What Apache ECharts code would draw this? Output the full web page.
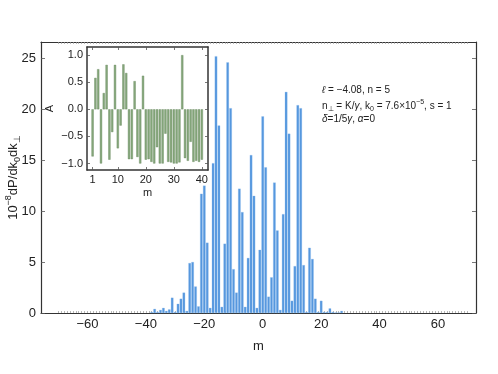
<!DOCTYPE html>
<html><head><meta charset="utf-8">
<script src="https://cdn.jsdelivr.net/npm/echarts@6/dist/echarts.min.js"></script>
<style>html,body{margin:0;padding:0;background:#fff}#c{width:498px;height:374px}</style>
</head><body><div id="c"></div>
<script>
// main chart: m vs 10^-8 dP/dk0 dk_perp
const mainM = [-38,-37,-36,-35,-34,-33,-32,-31,-30,-29,-28,-27,-26,-25,-24,-23,-22,-21,-20,-19,-18,-17,-16,-15,-14,-13,-12,-11,-10,-9,-8,-7,-6,-5,-4,-3,-2,-1,0,1,2,3,4,5,6,7,8,9,10,11,12,13,14,15,16,17,18,19,20,21,22,23,24,25,26,27];
const mainP = [0.1,0.4,0.1,0.3,0.5,0.2,0.35,1.5,0.1,0.9,1.4,2.0,0.2,4.9,5.0,2.6,0.65,11.7,12.5,6.9,0.5,14.7,25.2,18.4,0.6,6.8,24.6,20.1,4.3,2.0,12.2,9.9,0.6,5.4,15.5,11.5,0.5,6.2,19.3,14.3,1.6,3.5,12.8,8.1,0.3,9.7,21.7,17.6,1.2,4.6,20.4,20.1,4.7,0.1,6.4,5.3,1.4,0.1,1.2,0.1,0.1,0.45,0.1,0.05,0.05,0.2];
// inset: m vs A
const insetM = [1,2,3,4,5,6,7,8,9,10,11,12,13,14,15,16,17,18,19,20,21,22,23,24,25,26,27,28,29,30,31,32,33,34,35,36,37,38,39,40];
const insetA = [-0.87,0.58,0.74,-1.0,0.30,0.82,-0.93,-0.42,0.82,-0.72,-0.30,0.83,0.67,-0.92,-0.92,0.52,-0.88,-1.0,0.62,-0.93,-0.92,-0.97,-1.0,-0.7,-1.0,-1.0,-0.45,-0.97,-0.98,-1.0,-1.0,-0.98,1.0,-0.9,-0.95,-0.6,-0.97,-0.95,-0.97,-0.93];
// tick labels
const mainXTicks = [-60,-40,-20,0,20,40,60];
const mainYTicks = [0,5,10,15,20,25];
const insetXTicks = [1,10,20,30,40];
const insetYTicks = [-1,-0.5,0,0.5,1];

const fineTicks = [];
for (let i = -70; i <= 70; i++) fineTicks.push(i);
const minus = s => String(s).replace('-', '\u2212');
const FONT = 'Liberation Sans';
const frame = (w) => ({show: true, onZero: false, lineStyle: {color: '#333', width: w}});

const chart = echarts.init(document.getElementById('c'), null, {renderer: 'canvas'});
const option = {
  animation: false,
  backgroundColor: '#fff',
  textStyle: {fontFamily: FONT},
  grid: [
    {left: 41, top: 42, width: 435, height: 271, show: false, containLabel: false, outerBoundsMode: 'none'},
    {left: 87, top: 47, width: 121, height: 123, show: true, borderWidth: 0, backgroundColor: '#fff', z: 5, containLabel: false, outerBoundsMode: 'none'}
  ],
  xAxis: [
    {gridIndex: 0, type: 'value', min: -75.9, max: 73, position: 'bottom',
     axisLine: frame(1.2), splitLine: {show: false},
     axisTick: {show: true, inside: true, length: 2, customValues: fineTicks, lineStyle: {color: '#999', width: 0.7}},
     axisLabel: {customValues: mainXTicks, formatter: v => minus(v), fontSize: 13, color: '#222', margin: 5, fontFamily: FONT},
     name: 'm', nameLocation: 'middle', nameGap: 27, nameMoveOverlap: false, nameTextStyle: {fontSize: 13, color: '#222', fontFamily: FONT}},
    {gridIndex: 0, type: 'value', min: -75.9, max: 73, position: 'top',
     axisLine: frame(1.2), splitLine: {show: false},
     axisTick: {show: true, inside: true, length: 2, customValues: fineTicks, lineStyle: {color: '#999', width: 0.7}},
     axisLabel: {show: false}},
    {gridIndex: 1, type: 'value', min: -1, max: 42.2, position: 'bottom',
     axisLine: frame(1.5), splitLine: {show: false},
     axisTick: {show: true, inside: true, length: 3, customValues: insetXTicks, lineStyle: {color: '#555', width: 0.8}},
     axisLabel: {customValues: insetXTicks, fontSize: 11, color: '#222', margin: 4, fontFamily: FONT},
     name: 'm', nameLocation: 'middle', nameGap: 17, nameTextStyle: {fontSize: 11, color: '#222', fontFamily: FONT}, z: 6},
    {gridIndex: 1, type: 'value', min: -1, max: 42.2, position: 'top',
     axisLine: frame(1.5), splitLine: {show: false},
     axisTick: {show: true, inside: true, length: 3, customValues: insetXTicks, lineStyle: {color: '#555', width: 0.8}},
     axisLabel: {show: false}, z: 6}
  ],
  yAxis: [
    {gridIndex: 0, type: 'value', min: 0, max: 26.6, position: 'left',
     axisLine: frame(1.2), splitLine: {show: false},
     axisTick: {show: true, inside: true, length: 4, customValues: mainYTicks, lineStyle: {color: '#555', width: 0.8}},
     axisLabel: {customValues: mainYTicks, fontSize: 13, color: '#222', margin: 5, fontFamily: FONT},
     name: '{a|10}{sup|\u22128}{a|dP/dk}{sub|0}{a|dk}{sub|\u22a5}',
     nameLocation: 'middle', nameRotate: 90, nameGap: 19, nameMoveOverlap: false,
     nameTextStyle: {color: '#222', fontFamily: FONT, rich: {
       a: {fontSize: 13, lineHeight: 18, color: '#222', fontFamily: FONT},
       sup: {fontSize: 9, lineHeight: 9, verticalAlign: 'top', color: '#222', fontFamily: FONT},
       sub: {fontSize: 9, lineHeight: 9, verticalAlign: 'bottom', color: '#222', fontFamily: FONT}}}},
    {gridIndex: 0, type: 'value', min: 0, max: 26.6, position: 'right',
     axisLine: frame(1.2), splitLine: {show: false},
     axisTick: {show: true, inside: true, length: 4, customValues: mainYTicks, lineStyle: {color: '#555', width: 0.8}},
     axisLabel: {show: false}},
    {gridIndex: 1, type: 'value', min: -1.12, max: 1.15, position: 'left',
     axisLine: frame(1.5), splitLine: {show: false},
     axisTick: {show: true, inside: true, length: 3, customValues: insetYTicks, lineStyle: {color: '#555', width: 0.8}},
     axisLabel: {customValues: insetYTicks, formatter: v => minus(v.toFixed(1)), fontSize: 11, color: '#222', margin: 4, fontFamily: FONT},
     name: 'A', nameLocation: 'middle', nameRotate: 90, nameGap: 32,
     nameTextStyle: {fontSize: 11, color: '#222', fontFamily: FONT}, z: 6},
    {gridIndex: 1, type: 'value', min: -1.12, max: 1.15, position: 'right',
     axisLine: frame(1.5), splitLine: {show: false},
     axisTick: {show: true, inside: true, length: 3, customValues: insetYTicks, lineStyle: {color: '#555', width: 0.8}},
     axisLabel: {show: false}, z: 6}
  ],
  series: [
    {type: 'bar', xAxisIndex: 0, yAxisIndex: 0, barWidth: 2.5,
     data: mainM.map((m, i) => [m, mainP[i]]),
     itemStyle: {color: '#5597de', borderColor: '#8dbbef', borderWidth: 0.3}},
    {type: 'bar', xAxisIndex: 2, yAxisIndex: 2, barWidth: 2.2, z: 7,
     data: insetM.map((m, i) => [m, insetA[i]]),
     itemStyle: {color: '#86a87c', borderColor: '#66875a', borderWidth: 0.4}}
  ],
  graphic: [
    {type: 'text', left: 322, top: 85, z: 10, style: {
      text: '{i|\u2113}{r| = \u22124.08, n = 5}', fill: '#222',
      rich: {i: {fontStyle: 'italic', fontSize: 10, fontFamily: FONT}, r: {fontSize: 10, fontFamily: FONT}}}},
    {type: 'text', left: 322, top: 99, z: 10, style: {
      text: '{r|n}{sub|\u22a5}{r| = K/}{i|\u03b3}{r|, k}{sub|0}{r| = 7.6\u00d710}{sup|\u22125}{r|, s = 1}', fill: '#222',
      rich: {r: {fontSize: 10, lineHeight: 14, fontFamily: FONT},
             i: {fontSize: 10, lineHeight: 14, fontStyle: 'italic', fontFamily: FONT},
             sub: {fontSize: 7, lineHeight: 6, verticalAlign: 'bottom', fontFamily: FONT},
             sup: {fontSize: 7, lineHeight: 6, verticalAlign: 'top', fontFamily: FONT}}}},
    {type: 'text', left: 322, top: 114, z: 10, style: {
      text: '{i|\u03b4}{r|=1/5}{i|\u03b3}{r|, }{i|\u03b1}{r|=0}', fill: '#222',
      rich: {r: {fontSize: 10, fontFamily: FONT}, i: {fontSize: 10, fontStyle: 'italic', fontFamily: FONT}}}}
  ]
};
chart.setOption(option);
</script>
</body></html>
